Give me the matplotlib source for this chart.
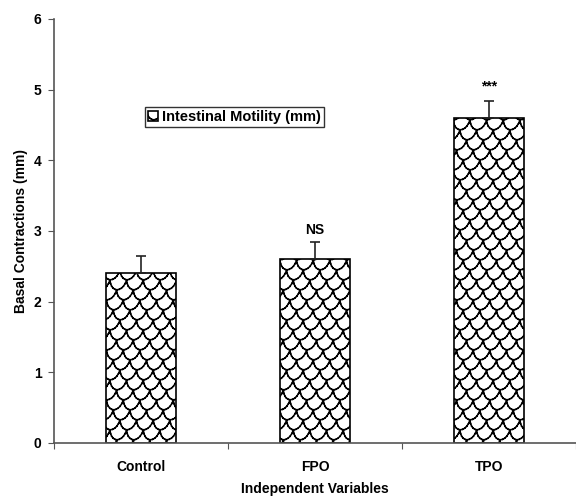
import numpy as np
import matplotlib
matplotlib.use("Agg")
import matplotlib.pyplot as plt
import matplotlib.hatch as mhatch
from matplotlib.path import Path

# ---- data ----
categories = ["Control", "FPO", "TPO"]
values = [2.4, 2.6, 4.6]
errors = [0.25, 0.25, 0.24]
annotations = ["", "NS", "***"]
series_name = "Intestinal Motility (mm)"
yticks = [0, 1, 2, 3, 4, 5, 6]

# ---- custom "scale" hatch (replaces 'O' pattern) ----
_orig_get_path = mhatch.get_path


def _bezier(p0, p1, p2, p3, n=10):
    t = np.linspace(0, 1, n + 1)[:, None]
    return ((1 - t) ** 3) * p0 + 3 * ((1 - t) ** 2) * t * p1 + \
        3 * (1 - t) * t ** 2 * p2 + t ** 3 * p3


def _scale_path(nx=6, ny=10, shift=0.6):
    w, h = 1.0 / nx, 1.0 / ny
    verts, codes = [], []
    for j in range(-1, ny + 1):
        y0 = j * h
        off = (j * shift * w) % w
        for i in range(-2, nx + 2):
            x0 = i * w + off
            pts = _bezier(np.array([x0, y0 + h]),
                          np.array([x0 + 0.05 * w, y0 - 0.30 * h]),
                          np.array([x0 + 0.75 * w, y0 - 0.30 * h]),
                          np.array([x0 + w, y0 + h]))
            for a, b in zip(pts[:-1], pts[1:]):
                verts += [tuple(a), tuple(b)]
                codes += [Path.MOVETO, Path.LINETO]
    return Path(np.array(verts), np.array(codes, dtype=Path.code_type))


def _get_path(hatchpattern, density=6):
    if hatchpattern == "O":
        return _scale_path()
    return _orig_get_path(hatchpattern, density)


mhatch.get_path = _get_path

plt.rcParams["font.family"] = ["Liberation Sans", "DejaVu Sans"]
plt.rcParams["hatch.linewidth"] = 1.1
plt.rcParams["hatch.color"] = "black"

fig = plt.figure(figsize=(5.76, 4.97), dpi=100)
ax = fig.add_axes([54 / 576, 1 - 443 / 497, 1 - 54 / 576, (443 - 19) / 497])

x = np.arange(len(categories))
ax.bar(x, values, width=0.4, color="white", edgecolor="black",
       linewidth=1.2, hatch="O", label=series_name, zorder=2)
ax.errorbar(x, values, yerr=[np.zeros(len(errors)), errors], fmt="none",
            ecolor="#222222", elinewidth=1.2, capsize=3.5, capthick=1.2,
            zorder=3)

for xi, v, e, a in zip(x, values, errors, annotations):
    if a:
        dy = 0.06 if a == "NS" else 0.10
        ax.text(xi, v + e + dy, a, ha="center", va="bottom",
                fontsize=10, fontweight="bold")

ax.set_xlim(-0.5, 2.5)
ax.set_ylim(0, 6)
ax.set_yticks(yticks)
ax.set_yticklabels([str(t) for t in yticks], fontsize=10, fontweight="bold")
ax.set_xticks([-0.5, 0.5, 1.5, 2.5])
ax.set_xticklabels([])
ax.set_xticks(x, minor=True)
ax.set_xticklabels(categories, minor=True, fontsize=10, fontweight="bold")
ax.tick_params(axis="x", which="minor", length=0, pad=12)
ax.tick_params(axis="x", which="major", length=4, direction="out",
               color="#555555")
ax.tick_params(axis="y", length=4, direction="out", color="#555555", pad=5)

for s in ["top", "right"]:
    ax.spines[s].set_visible(False)
for s in ["left", "bottom"]:
    ax.spines[s].set_color("#555555")
    ax.spines[s].set_linewidth(1.2)

ax.set_ylabel("Basal Contractions (mm)", fontsize=10, fontweight="bold",
              labelpad=4)
ax.set_xlabel("Independent Variables", fontsize=10, fontweight="bold",
              labelpad=6)

leg = ax.legend(loc="upper left",
                bbox_to_anchor=((145 - 54) / 522, 1 - (107 - 19) / 424),
                frameon=True, fancybox=False, edgecolor="black",
                prop={"size": 10.5, "weight": "bold"}, handlelength=0.7,
                handleheight=0.7, handletextpad=0.3, borderpad=0.2,
                borderaxespad=0)
leg.get_frame().set_linewidth(1.0)

fig.savefig("out.png", dpi=100)
